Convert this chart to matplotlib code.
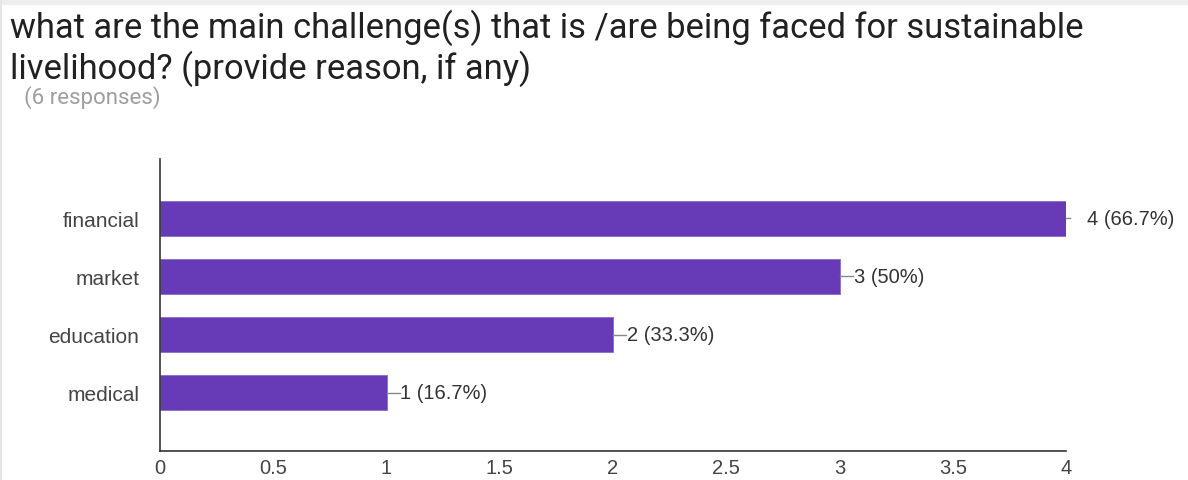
import matplotlib.pyplot as plt
from matplotlib.patches import Rectangle

categories = ['financial', 'market', 'education', 'medical']
counts = [4, 3, 2, 1]
percents = ['66.7%', '50%', '33.3%', '16.7%']
xticks = [0, 0.5, 1, 1.5, 2, 2.5, 3, 3.5, 4]
xtick_labels = ['0', '0.5', '1', '1.5', '2', '2.5', '3', '3.5', '4']
title_lines = ['what are the main challenge(s) that is /are being faced for sustainable',
               'livelihood? (provide reason, if any)']

purple = '#673ab7'
lbl_size = 14.5

fig = plt.figure(figsize=(11.88, 4.81), dpi=100)
fig.patch.set_facecolor('white')

# thin grey frame strips along the top and left edges
fig.patches.append(Rectangle((0, 1 - 6 / 481), 1, 6 / 481, transform=fig.transFigure,
                             facecolor='#eeeeee', edgecolor='none', zorder=0))
fig.patches.append(Rectangle((0, 0), 2 / 1188, 1, transform=fig.transFigure,
                             facecolor='#e6e6e6', edgecolor='none', zorder=0))

for i, line in enumerate(title_lines):
    fig.text(10 / 1188, 1 - (38 + 41 * i) / 481, line, fontsize=24.85, family='Roboto',
             color='#212121', ha='left', va='baseline')
fig.text(24 / 1188, 1 - 104 / 481, '(6 responses)', fontsize=16, family='Roboto',
         color='#9e9e9e', ha='left', va='baseline')

ax = fig.add_axes([160 / 1188, 1 - 452 / 481, (1066 - 160) / 1188, (452 - 160) / 481])
ypos = list(range(len(categories) - 1, -1, -1))
ax.barh(ypos, counts, height=0.6, color=purple, edgecolor='#8a6acb', linewidth=0.6)

ax.set_xlim(0, 4)
ax.set_ylim(-1, 4.02)
ax.set_yticks(ypos)
ax.set_yticklabels(categories, family='Liberation Sans', fontsize=15, color='#444444')
ax.set_xticks(xticks)
ax.set_xticklabels(xtick_labels, family='Liberation Sans', fontsize=lbl_size, color='#444444')
ax.tick_params(axis='both', length=0)
ax.tick_params(axis='y', pad=15)
ax.tick_params(axis='x', pad=5)

for s in ['top', 'right']:
    ax.spines[s].set_visible(False)
for s in ['left', 'bottom']:
    ax.spines[s].set_color('#333333')
    ax.spines[s].set_linewidth(1.2)

# value labels with a short leader line off the end of each bar
for y, c, p in zip(ypos, counts, percents):
    label = f'{c} ({p})'
    if c == max(counts):
        ax.plot([c, c + 4 / 226.5], [y, y], color='#888888', lw=1, clip_on=False)
        ax.annotate(label, (c, y), xytext=(21, 0), textcoords='offset pixels',
                    va='center', ha='left', family='Liberation Sans', fontsize=lbl_size,
                    color='#333333', annotation_clip=False)
    else:
        ax.plot([c, c + 13 / 226.5], [y, y], color='#888888', lw=1, clip_on=False)
        ax.annotate(label, (c, y), xytext=(14, 0), textcoords='offset pixels',
                    va='center', ha='left', family='Liberation Sans', fontsize=lbl_size,
                    color='#333333', annotation_clip=False)

plt.savefig('out.png', dpi=100)
